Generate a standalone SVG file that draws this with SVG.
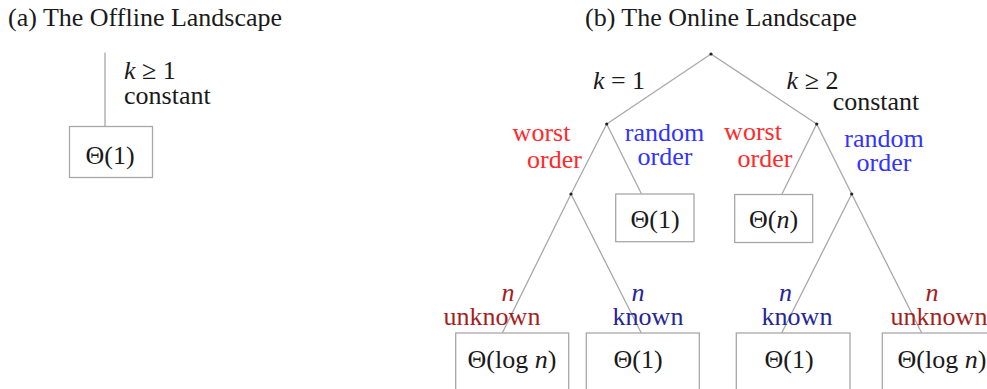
<svg xmlns="http://www.w3.org/2000/svg" width="987" height="389" viewBox="0 0 987 389">
<style>
text{font-family:"Liberation Serif","Times New Roman",serif;font-size:26px;fill:#1a1a1a}
.m{text-anchor:middle}
.i{font-style:italic}
.red{fill:#ff2a2a}
.blue{fill:#3333ff}
.dred{fill:#a51e1e}
.dblue{fill:#262699}
.edge{stroke:#a8a8a8;stroke-width:1.3;fill:none}
.box{stroke:#a8a8a8;stroke-width:1.3;fill:#fff}
.dot{fill:#222}
</style>
<rect width="987" height="389" fill="#fff"/>
<text x="8" y="26">(a) The Offline Landscape</text>
<text x="585" y="26">(b) The Online Landscape</text>
<g id="connectors">
<line class="edge" x1="105" y1="52.5" x2="105" y2="126.5"/>
<line class="edge" x1="711" y1="54" x2="606.7" y2="124"/>
<line class="edge" x1="711" y1="54" x2="816.7" y2="124"/>
<line class="edge" x1="606.7" y1="124" x2="571" y2="194"/>
<line class="edge" x1="606.7" y1="124" x2="641.5" y2="194"/>
<line class="edge" x1="816.7" y1="124" x2="781.7" y2="194.5"/>
<line class="edge" x1="816.7" y1="124" x2="851.7" y2="194"/>
<line class="edge" x1="571" y1="194" x2="502.3" y2="333"/>
<line class="edge" x1="571" y1="194" x2="641.3" y2="333"/>
<line class="edge" x1="851.7" y1="194" x2="781.7" y2="333"/>
<line class="edge" x1="851.7" y1="194" x2="921.7" y2="333"/>
</g>
<g id="offline-label">
<text x="124" y="79"><tspan class="i">k</tspan> ≥ 1</text>
<text x="124" y="104">constant</text>
</g>
<g id="offline-leaf">
<rect class="box" x="69.5" y="126.5" width="83" height="51"/>
<text class="m" x="110" y="164">Θ(1)</text>
</g>
<g id="root"><circle class="dot" cx="711" cy="54" r="1.6"/></g>
<g id="k1">
<circle class="dot" cx="606.7" cy="124" r="1.6"/>
<text class="m" x="619" y="89"><tspan class="i">k</tspan> = 1</text>
</g>
<g id="k2">
<circle class="dot" cx="816.7" cy="124" r="1.6"/>
<text class="m" x="812.5" y="89"><tspan class="i">k</tspan> ≥ 2</text>
<text class="m" x="876" y="110">constant</text>
</g>
<g id="k1-worst">
<circle class="dot" cx="571" cy="194" r="1.6"/>
<text class="m red" x="541.5" y="141">worst</text>
<text class="m red" x="554.5" y="168">order</text>
</g>
<g id="k1-random">
<rect class="box" x="615.7" y="194" width="78.3" height="47.7"/>
<text class="m blue" x="664.5" y="141">random</text>
<text class="m blue" x="665" y="165">order</text>
<text class="m" x="655" y="228">Θ(1)</text>
</g>
<g id="k2-worst">
<rect class="box" x="734.7" y="194.5" width="78" height="48"/>
<text class="m red" x="753" y="140">worst</text>
<text class="m red" x="765" y="167">order</text>
<text class="m" x="773.5" y="228">Θ(<tspan class="i">n</tspan>)</text>
</g>
<g id="k2-random">
<circle class="dot" cx="851.7" cy="194" r="1.6"/>
<text class="m blue" x="884" y="147">random</text>
<text class="m blue" x="884" y="171">order</text>
</g>
<g id="leaf1">
<rect class="box" x="455.7" y="333" width="113" height="70"/>
<text class="m i dred" x="508" y="301">n</text>
<text class="m dred" x="492" y="325">unknown</text>
<text class="m" x="512" y="368">Θ(log <tspan class="i">n</tspan>)</text>
</g>
<g id="leaf2">
<rect class="box" x="586.3" y="333" width="113" height="70"/>
<text class="m i dblue" x="638" y="301">n</text>
<text class="m dblue" x="648" y="325">known</text>
<text class="m" x="638" y="368">Θ(1)</text>
</g>
<g id="leaf3">
<rect class="box" x="736.3" y="333" width="113.7" height="70"/>
<text class="m i dblue" x="785.5" y="301">n</text>
<text class="m dblue" x="797" y="325">known</text>
<text class="m" x="789" y="368">Θ(1)</text>
</g>
<g id="leaf4">
<rect class="box" x="882.3" y="333" width="120" height="70"/>
<text class="m i dred" x="932" y="301">n</text>
<text class="m dred" x="939" y="325">unknown</text>
<text class="m" x="942" y="368">Θ(log <tspan class="i">n</tspan>)</text>
</g>
</svg>
